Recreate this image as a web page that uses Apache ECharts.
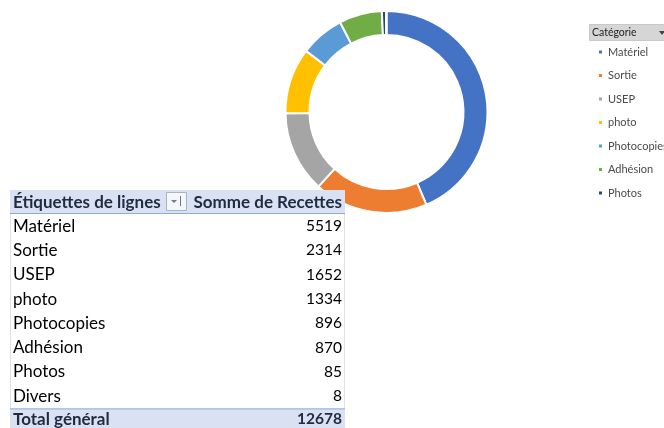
<!DOCTYPE html>
<html>
<head>
<meta charset="utf-8">
<script src="https://cdn.jsdelivr.net/npm/echarts@6/dist/echarts.min.js"></script>
<style>
  html, body { margin: 0; padding: 0; background: #fff; }
  #main { width: 664px; height: 428px; }
</style>
</head>
<body>
<div id="main"></div>
<script>
  // données du tableau croisé
  var categories = ['Matériel', 'Sortie', 'USEP', 'photo', 'Photocopies', 'Adhésion', 'Photos', 'Divers']
  var recettes = [5519, 2314, 1652, 1334, 896, 870, 85, 8]
  var legendNames = ['Matériel', 'Sortie', 'USEP', 'photo', 'Photocopies', 'Adhésion', 'Photos']
  var colors = ['#4472C4', '#ED7D31', '#A5A5A5', '#FFC000', '#5B9BD5', '#70AD47', '#264478', '#9E480E']
  var headerLabels = ['Étiquettes de lignes', 'Somme de Recettes']
  var totalLabel = 'Total général'

  var total = recettes.reduce(function (a, b) { return a + b }, 0)
  var font = 'Lato, "Liberation Sans", sans-serif'

  // tableau dessiné par-dessus l'anneau
  var tLeft = 10
  var tRight = 345
  var tTop = 190
  var headH = 23
  var rowH = 24.3
  var els = []
  els.push({ type: 'rect', z: 100, shape: { x: tLeft, y: tTop, width: tRight - tLeft, height: headH }, style: { fill: '#D9E1F2' } })
  els.push({ type: 'line', z: 101, shape: { x1: tLeft, y1: tTop + headH + 0.5, x2: tRight, y2: tTop + headH + 0.5 }, style: { stroke: '#8EA9DB', lineWidth: 1 } })
  var bodyTop = tTop + headH + 1
  var totalTop = bodyTop + rowH * categories.length
  els.push({ type: 'rect', z: 100, shape: { x: tLeft, y: bodyTop, width: tRight - tLeft, height: totalTop - bodyTop }, style: { fill: '#fff' } })
  els.push({ type: 'line', z: 101, shape: { x1: tLeft + 0.5, y1: bodyTop, x2: tLeft + 0.5, y2: totalTop }, style: { stroke: '#DCE3EF', lineWidth: 1 } })
  els.push({ type: 'line', z: 101, shape: { x1: tRight - 0.5, y1: bodyTop, x2: tRight - 0.5, y2: totalTop }, style: { stroke: '#DCE3EF', lineWidth: 1 } })
  els.push({ type: 'rect', z: 100, shape: { x: tLeft, y: totalTop, width: tRight - tLeft, height: 428 - totalTop }, style: { fill: '#D9E1F2' } })
  els.push({ type: 'line', z: 101, shape: { x1: tLeft, y1: totalTop + 0.5, x2: tRight, y2: totalTop + 0.5 }, style: { stroke: '#8EA9DB', lineWidth: 1 } })

  els.push({ type: 'text', z: 102, x: 13, y: tTop + headH / 2 + 1, style: { text: headerLabels[0], font: 'bold 17px ' + font, fill: '#1F2A44', verticalAlign: 'middle' } })
  els.push({ type: 'text', z: 102, x: tRight - 3, y: tTop + headH / 2 + 1, style: { text: headerLabels[1], font: 'bold 17px ' + font, fill: '#1F2A44', align: 'right', verticalAlign: 'middle' } })
  // bouton de filtre
  els.push({ type: 'rect', z: 102, shape: { x: 166.5, y: 192.5, width: 20, height: 18 }, style: { fill: '#F4F6FA', stroke: '#A6B3C8', lineWidth: 1 } })
  els.push({ type: 'polygon', z: 103, shape: { points: [[171, 200], [177, 200], [174, 203]] }, style: { fill: '#6B7A90' } })
  els.push({ type: 'line', z: 103, shape: { x1: 180.5, y1: 196, x2: 180.5, y2: 206 }, style: { stroke: '#6B7A90', lineWidth: 1 } })

  categories.forEach(function (c, i) {
    var cy = bodyTop + rowH * i + rowH / 2
    els.push({ type: 'text', z: 102, x: 13, y: cy, style: { text: c, font: '17px ' + font, fill: '#000', verticalAlign: 'middle' } })
    els.push({ type: 'text', z: 102, x: tRight - 3, y: cy, style: { text: String(recettes[i]), font: '15.5px ' + font, fill: '#000', align: 'right', verticalAlign: 'middle' } })
  })
  var ty = totalTop + (428 - totalTop) / 2 + 1
  els.push({ type: 'text', z: 102, x: 13, y: ty, style: { text: totalLabel, font: 'bold 17px ' + font, fill: '#1F2A44', verticalAlign: 'middle' } })
  els.push({ type: 'text', z: 102, x: tRight - 3, y: ty, style: { text: String(total), font: 'bold 15.5px ' + font, fill: '#1F2A44', align: 'right', verticalAlign: 'middle' } })

  // bouton "Catégorie" de la légende
  els.push({ type: 'rect', z: 100, shape: { x: 589.5, y: 24.5, width: 80, height: 16 }, style: { fill: '#D6D6D6', stroke: '#C8C8C8', lineWidth: 1 } })
  els.push({ type: 'text', z: 101, x: 592, y: 33, style: { text: 'Catégorie', font: '10.5px ' + font, fill: '#222', verticalAlign: 'middle' } })
  els.push({ type: 'polygon', z: 101, shape: { points: [[659, 31], [665, 31], [662, 35]] }, style: { fill: '#444' } })

  var chart = echarts.init(document.getElementById('main'))
  var option = {
    animation: false,
    color: colors,
    legend: {
      orient: 'vertical',
      left: 597,
      top: 46,
      padding: 0,
      itemWidth: 5,
      itemHeight: 5,
      itemGap: 11.5,
      icon: 'rect',
      data: legendNames,
      selectedMode: false,
      textStyle: {
        fontFamily: font,
        fontSize: 11,
        lineHeight: 12,
        color: '#4a4a4a'
      }
    },
    series: [{
      type: 'pie',
      center: [386.5, 112],
      radius: [77, 101],
      startAngle: 90,
      clockwise: true,
      avoidLabelOverlap: false,
      silent: true,
      label: { show: false },
      labelLine: { show: false },
      itemStyle: { borderColor: '#fff', borderWidth: 2 },
      data: categories.map(function (c, i) {
        return { name: c, value: recettes[i] }
      })
    }],
    graphic: { elements: els }
  }
  chart.setOption(option)
</script>
</body>
</html>
